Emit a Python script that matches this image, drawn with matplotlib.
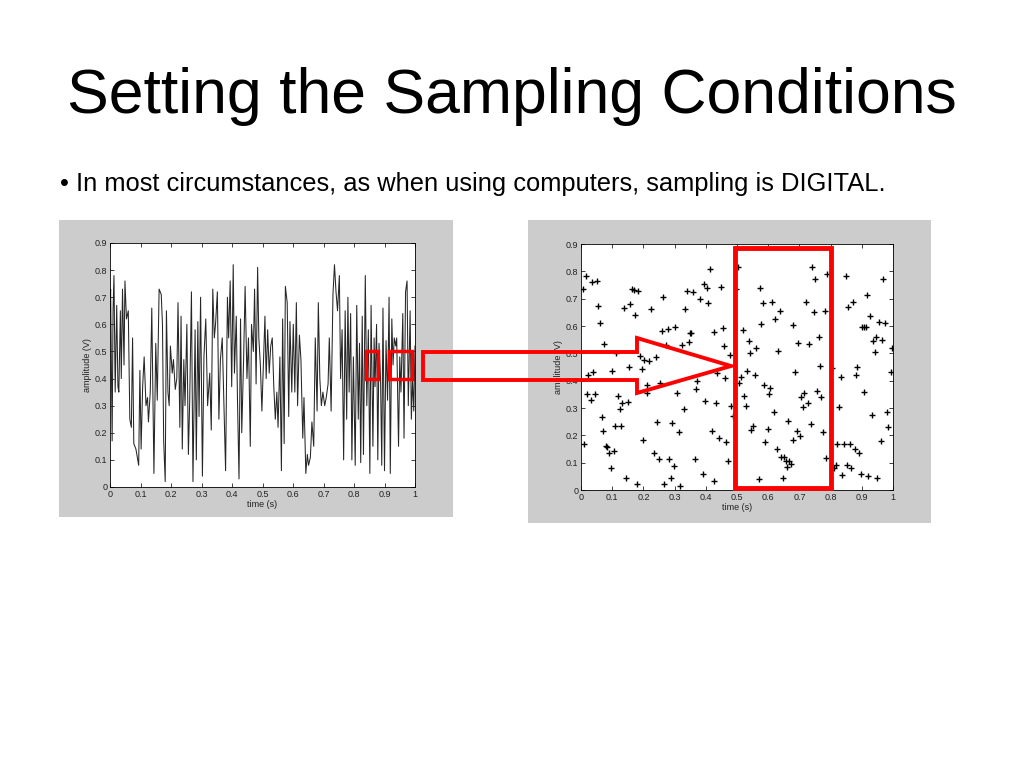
import numpy as np
import matplotlib
matplotlib.use("Agg")
import matplotlib.pyplot as plt
from matplotlib.patches import Rectangle, Polygon

plt.rcParams['font.family'] = ['Liberation Sans', 'DejaVu Sans']

title_text = "Setting the Sampling Conditions"
bullet_text = "\u2022 In most circumstances, as when using computers, sampling is DIGITAL."

# continuous signal (left panel)
signal_t = [0.000, 0.002, 0.007, 0.010, 0.013, 0.017, 0.022, 0.026, 0.029, 0.034,
            0.037, 0.041, 0.046, 0.049, 0.054, 0.060, 0.065, 0.070, 0.074, 0.078,
            0.085, 0.094, 0.098, 0.102, 0.107, 0.112, 0.118, 0.123, 0.126, 0.132,
            0.137, 0.144, 0.150, 0.155, 0.161, 0.168, 0.172, 0.176, 0.181, 0.185,
            0.190, 0.194, 0.198, 0.204, 0.208, 0.214, 0.219, 0.223, 0.229, 0.233,
            0.237, 0.242, 0.246, 0.252, 0.257, 0.261, 0.267, 0.272, 0.279, 0.283,
            0.288, 0.292, 0.297, 0.303, 0.308, 0.314, 0.320, 0.327, 0.332, 0.337,
            0.342, 0.346, 0.352, 0.357, 0.362, 0.368, 0.373, 0.379, 0.385, 0.389,
            0.394, 0.399, 0.404, 0.408, 0.414, 0.418, 0.423, 0.428, 0.432, 0.438,
            0.443, 0.449, 0.454, 0.460, 0.464, 0.470, 0.474, 0.479, 0.484, 0.488,
            0.493, 0.498, 0.503, 0.508, 0.512, 0.517, 0.522, 0.527, 0.532, 0.537,
            0.542, 0.547, 0.551, 0.557, 0.562, 0.566, 0.571, 0.575, 0.581, 0.586,
            0.590, 0.596, 0.601, 0.606, 0.611, 0.615, 0.621, 0.626, 0.632, 0.636,
            0.642, 0.647, 0.651, 0.657, 0.662, 0.668, 0.673, 0.679, 0.683, 0.688,
            0.693, 0.698, 0.704, 0.709, 0.715, 0.719, 0.725, 0.731, 0.736, 0.741,
            0.746, 0.752, 0.756, 0.761, 0.766, 0.771, 0.776, 0.780, 0.784, 0.789,
            0.793, 0.798, 0.804, 0.809, 0.814, 0.818, 0.822, 0.827, 0.831, 0.837,
            0.842, 0.847, 0.852, 0.856, 0.862, 0.866, 0.869, 0.874, 0.878, 0.882,
            0.887, 0.891, 0.895, 0.900, 0.905, 0.910, 0.915, 0.919, 0.924, 0.928,
            0.932, 0.937, 0.940, 0.946, 0.950, 0.954, 0.960, 0.964, 0.969, 0.974,
            0.978, 0.984, 0.988, 0.992, 0.996, 1.000]
signal_v = [0.65, 0.73, 0.17, 0.65, 0.78, 0.35, 0.67, 0.37, 0.35, 0.65,
            0.40, 0.73, 0.45, 0.76, 0.62, 0.65, 0.25, 0.22, 0.55, 0.16,
            0.14, 0.08, 0.43, 0.14, 0.37, 0.48, 0.30, 0.33, 0.24, 0.35,
            0.66, 0.05, 0.53, 0.32, 0.73, 0.71, 0.60, 0.17, 0.02, 0.65,
            0.35, 0.30, 0.52, 0.42, 0.47, 0.36, 0.40, 0.68, 0.22, 0.63,
            0.14, 0.47, 0.30, 0.60, 0.12, 0.30, 0.72, 0.02, 0.58, 0.10,
            0.61, 0.26, 0.70, 0.04, 0.48, 0.62, 0.30, 0.42, 0.21, 0.73,
            0.55, 0.60, 0.72, 0.25, 0.47, 0.55, 0.32, 0.06, 0.70, 0.55,
            0.76, 0.37, 0.82, 0.42, 0.63, 0.32, 0.03, 0.62, 0.20, 0.47,
            0.74, 0.40, 0.55, 0.15, 0.60, 0.50, 0.73, 0.38, 0.81, 0.55,
            0.45, 0.28, 0.45, 0.63, 0.40, 0.58, 0.42, 0.52, 0.55, 0.37,
            0.25, 0.35, 0.22, 0.48, 0.06, 0.62, 0.16, 0.74, 0.68, 0.26,
            0.61, 0.35, 0.60, 0.35, 0.68, 0.30, 0.56, 0.47, 0.18, 0.33,
            0.05, 0.12, 0.08, 0.11, 0.24, 0.15, 0.55, 0.28, 0.68, 0.40,
            0.30, 0.35, 0.30, 0.33, 0.38, 0.55, 0.28, 0.71, 0.82, 0.72,
            0.65, 0.78, 0.40, 0.58, 0.10, 0.65, 0.25, 0.70, 0.35, 0.64,
            0.10, 0.48, 0.08, 0.67, 0.25, 0.53, 0.09, 0.63, 0.12, 0.78,
            0.30, 0.58, 0.05, 0.67, 0.15, 0.55, 0.37, 0.60, 0.10, 0.53,
            0.40, 0.08, 0.66, 0.06, 0.54, 0.32, 0.70, 0.05, 0.62, 0.45,
            0.55, 0.52, 0.55, 0.15, 0.48, 0.35, 0.64, 0.18, 0.72, 0.76,
            0.30, 0.65, 0.25, 0.40, 0.28, 0.52]

# digital samples (right panel)
sample_t = [0.005, 0.010, 0.016, 0.019, 0.024, 0.032, 0.034, 0.040, 0.046, 0.050,
            0.056, 0.062, 0.066, 0.070, 0.075, 0.080, 0.083, 0.091, 0.096, 0.099,
            0.105, 0.110, 0.112, 0.117, 0.124, 0.128, 0.133, 0.139, 0.143, 0.152,
            0.155, 0.158, 0.164, 0.169, 0.173, 0.178, 0.184, 0.190, 0.194, 0.199,
            0.203, 0.210, 0.213, 0.218, 0.224, 0.233, 0.240, 0.244, 0.251, 0.254,
            0.259, 0.264, 0.267, 0.272, 0.280, 0.283, 0.288, 0.291, 0.299, 0.302,
            0.307, 0.314, 0.318, 0.323, 0.329, 0.334, 0.339, 0.347, 0.349, 0.354,
            0.359, 0.365, 0.367, 0.372, 0.382, 0.390, 0.395, 0.399, 0.403, 0.408,
            0.412, 0.419, 0.425, 0.427, 0.432, 0.437, 0.443, 0.448, 0.454, 0.459,
            0.463, 0.466, 0.472, 0.478, 0.482, 0.486, 0.496, 0.502, 0.508, 0.512,
            0.519, 0.523, 0.528, 0.531, 0.538, 0.542, 0.546, 0.551, 0.557, 0.561,
            0.570, 0.574, 0.577, 0.583, 0.587, 0.591, 0.598, 0.602, 0.606, 0.612,
            0.617, 0.621, 0.628, 0.633, 0.637, 0.642, 0.646, 0.651, 0.656, 0.660,
            0.665, 0.668, 0.672, 0.678, 0.681, 0.686, 0.692, 0.696, 0.701, 0.706,
            0.711, 0.716, 0.721, 0.726, 0.731, 0.736, 0.741, 0.747, 0.751, 0.758,
            0.762, 0.766, 0.770, 0.777, 0.782, 0.786, 0.790, 0.804, 0.811, 0.816,
            0.822, 0.827, 0.832, 0.838, 0.843, 0.849, 0.852, 0.856, 0.861, 0.866,
            0.872, 0.877, 0.880, 0.886, 0.891, 0.896, 0.902, 0.907, 0.907, 0.912,
            0.916, 0.920, 0.926, 0.932, 0.936, 0.941, 0.945, 0.950, 0.955, 0.961,
            0.966, 0.969, 0.974, 0.980, 0.985, 0.993, 0.998]
sample_v = [0.734, 0.167, 0.783, 0.350, 0.420, 0.330, 0.760, 0.430, 0.350, 0.766,
            0.673, 0.610, 0.268, 0.216, 0.534, 0.161, 0.156, 0.134, 0.079, 0.437,
            0.144, 0.235, 0.500, 0.344, 0.296, 0.235, 0.320, 0.667, 0.045, 0.323,
            0.451, 0.680, 0.737, 0.732, 0.640, 0.022, 0.729, 0.490, 0.443, 0.183,
            0.475, 0.356, 0.383, 0.473, 0.664, 0.137, 0.488, 0.250, 0.112, 0.390,
            0.582, 0.705, 0.021, 0.530, 0.588, 0.112, 0.045, 0.244, 0.088, 0.595,
            0.354, 0.212, 0.016, 0.530, 0.295, 0.663, 0.729, 0.543, 0.573, 0.573,
            0.723, 0.112, 0.370, 0.399, 0.699, 0.059, 0.754, 0.327, 0.738, 0.685,
            0.807, 0.217, 0.579, 0.034, 0.320, 0.429, 0.189, 0.741, 0.591, 0.527,
            0.408, 0.174, 0.106, 0.495, 0.307, 0.270, 0.734, 0.815, 0.393, 0.412,
            0.585, 0.345, 0.309, 0.437, 0.545, 0.500, 0.220, 0.234, 0.420, 0.520,
            0.039, 0.738, 0.606, 0.683, 0.385, 0.177, 0.222, 0.350, 0.372, 0.689,
            0.287, 0.624, 0.149, 0.509, 0.656, 0.122, 0.045, 0.122, 0.107, 0.083,
            0.252, 0.107, 0.095, 0.604, 0.183, 0.430, 0.217, 0.539, 0.198, 0.339,
            0.305, 0.354, 0.687, 0.317, 0.534, 0.241, 0.817, 0.652, 0.772, 0.363,
            0.561, 0.455, 0.339, 0.213, 0.656, 0.116, 0.789, 0.445, 0.082, 0.091,
            0.168, 0.302, 0.415, 0.055, 0.168, 0.783, 0.091, 0.671, 0.168, 0.079,
            0.689, 0.149, 0.421, 0.451, 0.134, 0.059, 0.598, 0.595, 0.360, 0.595,
            0.713, 0.051, 0.638, 0.274, 0.545, 0.506, 0.561, 0.043, 0.616, 0.180,
            0.549, 0.771, 0.610, 0.284, 0.232, 0.433, 0.521]

x_ticks = [0, 0.1, 0.2, 0.3, 0.4, 0.5, 0.6, 0.7, 0.8, 0.9, 1]
x_labels = ["0", "0.1", "0.2", "0.3", "0.4", "0.5", "0.6", "0.7", "0.8", "0.9", "1"]
y_ticks = [0, 0.1, 0.2, 0.3, 0.4, 0.5, 0.6, 0.7, 0.8, 0.9]
y_labels = ["0", "0.1", "0.2", "0.3", "0.4", "0.5", "0.6", "0.7", "0.8", "0.9"]

W, H = 1024, 768


def fig_rect(x0, y0, x1, y1):
    # pixel box (top-left origin) -> figure fraction [left, bottom, width, height]
    return [x0 / W, 1 - y1 / H, (x1 - x0) / W, (y1 - y0) / H]


def style_axes(ax):
    ax.set_xlim(0, 1)
    ax.set_ylim(0, 0.9)
    ax.set_xticks(x_ticks)
    ax.set_xticklabels(x_labels)
    ax.set_yticks(y_ticks)
    ax.set_yticklabels(y_labels)
    ax.tick_params(direction='in', length=3, width=0.6, labelsize=6.5,
                   top=True, right=True, pad=2, colors='#222222')
    for s in ax.spines.values():
        s.set_linewidth(0.6)
    ax.set_xlabel("time (s)", fontsize=6.5, labelpad=1, color='#222222')
    ax.set_ylabel("amplitude (V)", fontsize=6.5, labelpad=2, color='#222222')
    ax.set_zorder(2)


fig = plt.figure(figsize=(W / 100, H / 100), dpi=100)
fig.patch.set_facecolor('white')

fig.text(0.5, 1 - 97 / H, title_text, ha='center', va='center', fontsize=45)
fig.text(60 / W, 1 - 184 / H, bullet_text, ha='left', va='center', fontsize=18.4)

# grey figure panels (MATLAB figure background)
for box in [(59, 220, 453, 517), (528, 220, 931, 523)]:
    r = fig_rect(*box)
    fig.patches.append(Rectangle((r[0], r[1]), r[2], r[3], transform=fig.transFigure,
                                 facecolor='#cccccc', edgecolor='none', zorder=-5))

ax1 = fig.add_axes(fig_rect(110, 243, 415, 487))
ax1.plot(signal_t, signal_v, color='#262626', linewidth=0.75)
style_axes(ax1)
for x0, x1 in [(0.839, 0.879), (0.915, 0.990)]:
    ax1.add_patch(Rectangle((x0, 0.4), x1 - x0, 0.1, fill=False, edgecolor='red',
                            linewidth=2.5, clip_on=False, zorder=5))

ax2 = fig.add_axes(fig_rect(581, 244, 893, 490))
ax2.plot(sample_t, sample_v, linestyle='none', marker='+', color='black',
         markersize=5, markeredgewidth=1.0)
style_axes(ax2)
ax2.add_patch(Rectangle((0.494, 0.007), 0.307, 0.879, fill=False, edgecolor='red',
                        linewidth=3.5, clip_on=False, zorder=5))

# hollow arrow from the left zoom boxes into the right plot
arrow_px = [(423, 352), (637, 352), (637, 338), (731, 366),
            (637, 393), (637, 380), (423, 380)]
arrow_pts = [(x / W, 1 - y / H) for x, y in arrow_px]
fig.patches.append(Polygon(arrow_pts, closed=True, fill=False, edgecolor='red',
                           linewidth=2.8, transform=fig.transFigure, zorder=10))

fig.savefig("out.png", dpi=100)
